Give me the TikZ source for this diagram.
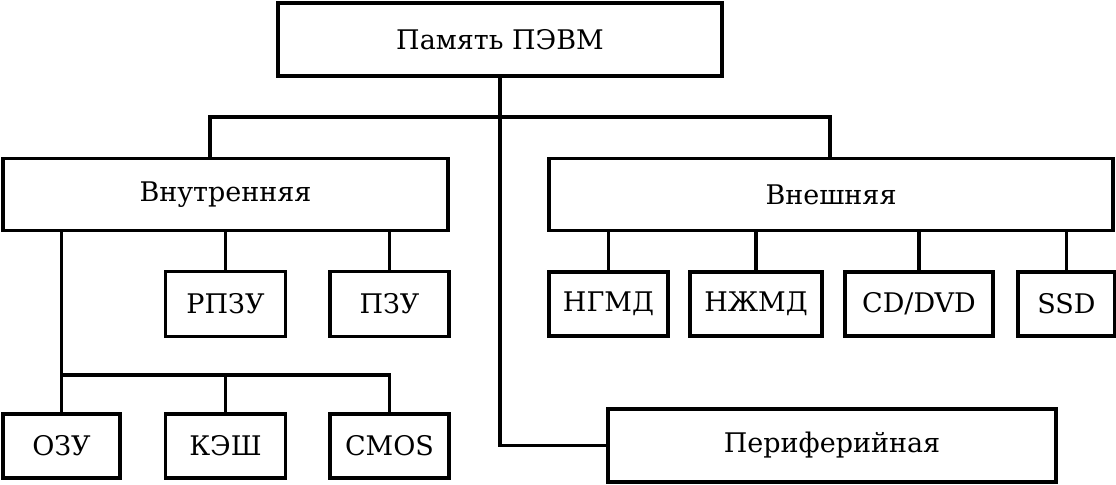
\documentclass[tikz,border=0pt]{standalone}
\usepackage{fontspec}
\setmainfont{DejaVu Serif}
\usepackage{tikz}

\begin{document}
\begin{tikzpicture}[x=0.5pt, y=-0.5pt, line width=1.8pt,
        blk/.style={draw, inner sep=0pt, font=\fontsize{13.5}{15}\selectfont}]
                \useasboundingbox (0, 0) rectangle (1116, 485);
                \node[blk, minimum width=222pt, minimum height=36.5pt] (mem) at (500, 39.5) {Память ПЭВМ};
                \node[blk, minimum width=222.5pt, minimum height=36pt] (inner) at (225.5, 194.5) {Внутренняя};
                \node[blk, minimum width=282pt, minimum height=36pt] (outer) at (831, 194.5) {Внешняя};
                \node[blk, minimum width=60pt, minimum height=32.5pt] (rpzu) at (225.5, 304) {РПЗУ};
                \node[blk, minimum width=59.5pt, minimum height=32.5pt] (pzu) at (389.5, 304) {ПЗУ};
                \node[blk, minimum width=58.5pt, minimum height=32pt] (ozu) at (61.5, 446) {ОЗУ};
                \node[blk, minimum width=60pt, minimum height=32pt] (kesh) at (225.5, 446) {КЭШ};
                \node[blk, minimum width=59.5pt, minimum height=32pt] (cmos) at (389.5, 446) {CMOS};
                \node[blk, minimum width=59.5pt, minimum height=32pt] (ngmd) at (608.5, 304) {НГМД};
                \node[blk, minimum width=66pt, minimum height=32pt] (nzhmd) at (756, 304) {НЖМД};
                \node[blk, minimum width=74pt, minimum height=32pt] (cddvd) at (919, 304) {CD/DVD};
                \node[blk, minimum width=48.5pt, minimum height=32pt] (ssd) at (1066.5, 304) {SSD};
                \node[blk, minimum width=224pt, minimum height=36.5pt] (peri) at (832, 445.5) {Периферийная};
                \coordinate (jl) at (210, 117);
                \coordinate (jr) at (830, 117);
                \coordinate (bus) at (0, 375);
                \draw (mem.south) -- (mem.south |- peri.west) -- (peri.west);
                \draw (jl |- inner.north) -- (jl) -- (jr) -- (jr |- outer.north);
                \draw (rpzu.north) -- (rpzu.north |- inner.south);
                \draw (pzu.north) -- (pzu.north |- inner.south);
                \draw (ozu.north |- inner.south) -- (ozu.north);
                \draw (ozu.north |- bus) -| (cmos.north);
                \draw (kesh.north |- bus) -- (kesh.north);
                \foreach \n in {ngmd, nzhmd, cddvd, ssd}
                    \draw (\n.north) -- (\n.north |- outer.south);
            \end{tikzpicture}
\end{document}
